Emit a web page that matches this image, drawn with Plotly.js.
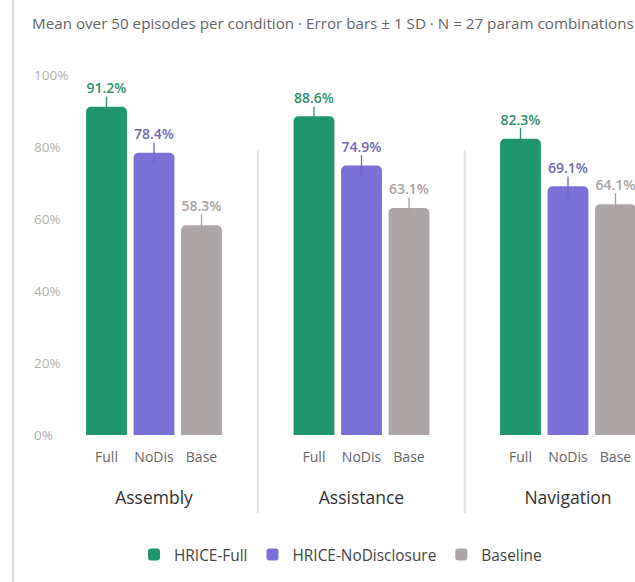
<!DOCTYPE html>
<html>
<head>
<meta charset="utf-8">
<script src="https://cdn.plot.ly/plotly-3.0.1.min.js"></script>
<style>
html,body{margin:0;padding:0;overflow:hidden;background:#fff;}
#chart{width:690px;height:582px;}
</style>
</head>
<body>
<div id="chart"></div>
<script>
// ---- data ----
var groups = ['Assembly', 'Assistance', 'Navigation'];
var conditions = ['Full', 'NoDis', 'Base'];
var seriesNames = ['HRICE-Full', 'HRICE-NoDisclosure', 'Baseline'];
var fullMean = [91.2, 88.6, 82.3];
var noDisMean = [78.4, 74.9, 69.1];
var baseMean = [58.3, 63.1, 64.1];
var fullSD = [2.8, 2.6, 3.0];
var noDisSD = [2.9, 2.8, 2.7];
var baseSD = [3.0, 2.9, 3.1];
var yTickVals = [0, 20, 40, 60, 80, 100];
var titleText = 'Mean over 50 episodes per condition \u00b7 Error bars \u00b1 1 SD \u00b7 N = 27 param combinations';

// ---- styles ----
var W = 690, H = 582;
var plotTop = 60, plotBottom = 444;          // pixel edges of the plot area
var plotH = plotBottom - plotTop;
var barColors = ['#20966e', '#7b6fd8', '#aca7a6'];
var labelColors = ['#2f8f70', '#7068b8', '#a9a4a3'];
var means = [fullMean, noDisMean, baseMean];
var sds = [fullSD, noDisSD, baseSD];
var font = 'Open Sans, Noto Sans, sans-serif';

// subplot domains in pixels
var domPx = [[82.75, 225.25], [290.25, 432.75], [496.75, 639.25]];
var axNames = ['x', 'x2', 'x3'];

function py(pix) { return (plotBottom - pix) / plotH; }

var traces = [];
for (var s = 0; s < 3; s++) {
  for (var g = 0; g < 3; g++) {
    traces.push({
      type: 'bar',
      x: [conditions[s]],
      y: [means[s][g]],
      xaxis: axNames[g], yaxis: 'y',
      name: seriesNames[s],
      legendgroup: seriesNames[s],
      showlegend: g === 0,
      width: 0.86,
      marker: {color: barColors[s], cornerradius: 5},
      error_y: {type: 'data', array: [sds[s][g]], visible: true,
                color: labelColors[s], thickness: 1.3, width: 0},
      hoverinfo: 'skip'
    });
    traces.push({
      type: 'scatter', mode: 'text',
      x: [conditions[s]],
      y: [means[s][g] + sds[s][g]],
      xaxis: axNames[g], yaxis: 'y',
      text: [means[s][g].toFixed(1) + '%'],
      textposition: 'top center',
      textfont: {family: font, size: 14, color: labelColors[s], weight: 600},
      showlegend: false, cliponaxis: false, hoverinfo: 'skip'
    });
  }
}

var layout = {
  width: W, height: H,
  margin: {l: 0, r: 0, t: plotTop, b: H - plotBottom},
  paper_bgcolor: '#ffffff', plot_bgcolor: '#ffffff',
  font: {family: font, color: '#555'},
  barmode: 'overlay',
  showlegend: true,
  title: {text: titleText, x: 32 / W, xanchor: 'left', xref: 'container',
          y: 1 - 24 / H, yanchor: 'middle', yref: 'container',
          font: {family: font, size: 15.2, color: '#666'}},
  yaxis: {range: [-2.5, 104.2], anchor: 'free', position: 30 / W,
          tickvals: yTickVals, ticktext: yTickVals.map(function(v){return v + '%';}),
          ticklabelposition: 'inside', showgrid: false, zeroline: false,
          showline: false, ticks: '', tickfont: {family: font, size: 13.5, color: '#b0b0b0'}},
  legend: {orientation: 'h', x: 134 / W, xanchor: 'left', xref: 'container',
           y: 1 - 555 / H, yanchor: 'middle', yref: 'container',
           font: {family: font, size: 15.4, color: '#444'}, traceorder: 'normal'},
  shapes: [
    {type: 'line', xref: 'paper', yref: 'paper', x0: 13 / W, x1: 13 / W,
     y0: py(0), y1: py(582), line: {color: '#dedede', width: 2.5}},
    {type: 'line', xref: 'paper', yref: 'paper',
     x0: (domPx[0][1] + domPx[1][0]) / 2 / W, x1: (domPx[0][1] + domPx[1][0]) / 2 / W,
     y0: py(150), y1: py(513), line: {color: '#e2e2e2', width: 2}},
    {type: 'line', xref: 'paper', yref: 'paper',
     x0: (domPx[1][1] + domPx[2][0]) / 2 / W, x1: (domPx[1][1] + domPx[2][0]) / 2 / W,
     y0: py(150), y1: py(513), line: {color: '#e2e2e2', width: 2}}
  ]
};

for (var g = 0; g < 3; g++) {
  var key = g === 0 ? 'xaxis' : 'xaxis' + (g + 1);
  layout[key] = {
    domain: [domPx[g][0] / W, domPx[g][1] / W],
    anchor: 'y', type: 'category',
    categoryorder: 'array', categoryarray: conditions,
    range: [-0.5, 2.5],
    showgrid: false, zeroline: false, showline: false, ticks: '',
    ticklabelstandoff: 3,
    tickfont: {family: font, size: 14, color: '#666'},
    title: {text: groups[g], standoff: 26, font: {family: font, size: 17.5, color: '#333'}}
  };
}

Plotly.newPlot('chart', traces, layout, {displayModeBar: false, responsive: false});
</script>
</body>
</html>
